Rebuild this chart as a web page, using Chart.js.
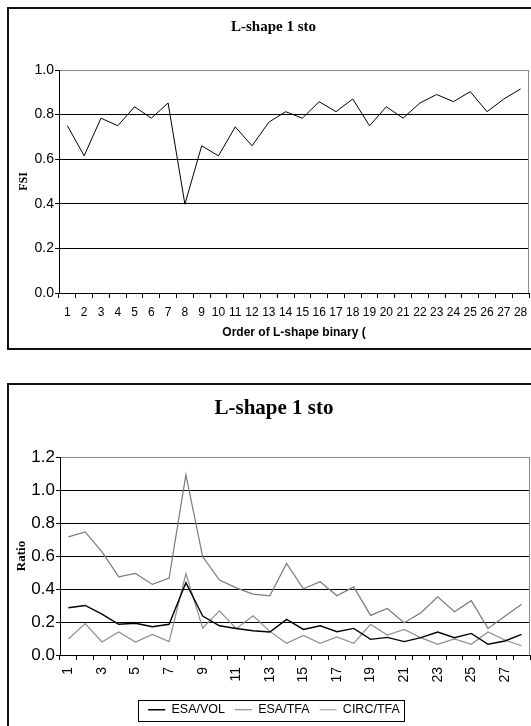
<!DOCTYPE html>
<html>
<head>
<meta charset="utf-8">
<script src="https://cdn.jsdelivr.net/npm/chart.js@4.4.1/dist/chart.umd.min.js"></script>
<style>
  html, body { margin: 0; padding: 0; background: #fff; overflow: hidden; width: 531px; height: 726px; }
  .box { position: absolute; left: 7px; border: 2px solid #111; overflow: hidden; background: #fff; }
  #box1 { top: 7px; width: 560px; height: 339px; }
  #box2 { top: 383px; width: 560px; height: 360px; }
  canvas { display: block; }
</style>
</head>
<body>
<div class="box" id="box1"><canvas id="fsiChart" width="560" height="339"></canvas></div>
<div class="box" id="box2"><canvas id="ratioChart" width="560" height="341"></canvas></div>
<script>
// ---- data ----
const categories = ['1', '2', '3', '4', '5', '6', '7', '8', '9', '10', '11', '12', '13', '14',
                    '15', '16', '17', '18', '19', '20', '21', '22', '23', '24', '25', '26', '27', '28'];

const fsi = [0.75, 0.615, 0.784, 0.75, 0.835, 0.784, 0.852, 0.398, 0.66, 0.615, 0.745, 0.66, 0.766, 0.813,
             0.784, 0.858, 0.813, 0.87, 0.75, 0.835, 0.784, 0.852, 0.89, 0.858, 0.903, 0.813, 0.87, 0.915];

const esaVol = [0.286, 0.30, 0.248, 0.186, 0.192, 0.171, 0.186, 0.438, 0.236, 0.177, 0.161, 0.147, 0.139, 0.216,
                0.155, 0.177, 0.141, 0.161, 0.095, 0.107, 0.081, 0.105, 0.139, 0.105, 0.131, 0.065, 0.085, 0.125];
const esaTfa = [0.716, 0.746, 0.625, 0.474, 0.494, 0.428, 0.466, 1.093, 0.595, 0.454, 0.407, 0.369, 0.359, 0.555,
                0.401, 0.444, 0.359, 0.413, 0.24, 0.282, 0.196, 0.256, 0.353, 0.262, 0.329, 0.161, 0.235, 0.307];
const circTfa = [0.097, 0.19, 0.079, 0.139, 0.079, 0.125, 0.081, 0.494, 0.163, 0.268, 0.159, 0.238, 0.143, 0.071,
                 0.119, 0.071, 0.109, 0.071, 0.186, 0.121, 0.155, 0.105, 0.065, 0.097, 0.065, 0.139, 0.091, 0.056];

const seriesNames = ['ESA/VOL', 'ESA/TFA', 'CIRC/TFA'];
const fsiAxisMax = 1.0;
const ratioAxisMax = 1.2;
const axisStep = 0.2;

const SANS = "'Liberation Sans', Arial, sans-serif";
const SERIF = "'Liberation Serif', 'Times New Roman', serif";

// gray right edge of plot area + box around legend
const framePlugin = {
    id: 'frame',
    afterDraw(chart) {
        const { ctx, chartArea: a } = chart;
        ctx.save();
        ctx.strokeStyle = '#8c8c8c';
        ctx.lineWidth = 1;
        ctx.beginPath();
        ctx.moveTo(Math.round(a.right) - 0.5, a.top);
        ctx.lineTo(Math.round(a.right) - 0.5, a.bottom);
        ctx.stroke();

        const lg = chart.legend;
        if (lg && lg.options.display && lg.legendHitBoxes && lg.legendHitBoxes.length) {
            const hb = lg.legendHitBoxes;
            const left = Math.min(...hb.map(h => h.left)) - 10;
            const right = Math.max(...hb.map(h => h.left + h.width)) + 4;
            const top = hb[0].top - 4;
            ctx.strokeStyle = '#000';
            ctx.strokeRect(Math.round(left) + 0.5, Math.round(top) + 0.5, Math.round(right - left), 21);
        }
        ctx.restore();
    }
};

function yAxis(max, tickSize, titleText, titleSize, width, titlePad) {
    return {
        min: 0,
        max: max,
        afterFit: s => { s.width = width; },
        ticks: { stepSize: axisStep, padding: 1, color: '#000', font: { family: SANS, size: tickSize },
                 callback: v => v.toFixed(1) },
        grid: { color: c => (c.tick && Math.abs(c.tick.value - max) < 1e-6) ? '#8c8c8c' : '#000',
                tickColor: '#000', tickLength: 4, lineWidth: 1 },
        border: { color: '#000', width: 1 },
        title: { display: true, text: titleText, color: '#000',
                 font: { family: SERIF, size: titleSize, weight: 'bold', lineHeight: 1 },
                 padding: { top: titlePad, bottom: 0 } }
    };
}

// 1. FSI chart
new Chart(document.getElementById('fsiChart'), {
    type: 'line',
    data: {
        labels: categories,
        datasets: [{
            label: 'FSI',
            data: fsi,
            borderColor: '#000',
            borderWidth: 1,
            pointRadius: 0,
            tension: 0,
            fill: false
        }]
    },
    options: {
        responsive: false,
        animation: false,
        layout: { padding: { left: 9, right: 40, top: 0, bottom: 0 } },
        plugins: {
            legend: { display: false },
            tooltip: { enabled: false },
            title: { display: true, text: 'L-shape 1 sto', color: '#000',
                     font: { family: SERIF, size: 15, weight: 'bold', lineHeight: 1.2 },
                     padding: { top: 9, bottom: 34 } }
        },
        scales: {
            x: {
                offset: true,
                afterFit: s => { s.height = 55; },
                ticks: { autoSkip: false, maxRotation: 0, minRotation: 0, padding: 7, color: '#000',
                         font: { family: SANS, size: 12 } },
                grid: { offset: true, drawOnChartArea: false, drawTicks: true, tickLength: 5, color: '#000' },
                border: { color: '#000', width: 1 },
                title: { display: true, text: 'Order of L-shape binary (', color: '#000',
                         font: { family: SANS, size: 12, weight: 'bold', lineHeight: 1.2 },
                         padding: { top: 0, bottom: 8 } }
            },
            y: yAxis(fsiAxisMax, 14, 'FSI', 12, 41, 0)
        }
    },
    plugins: [framePlugin]
});

// 2. Ratio chart
new Chart(document.getElementById('ratioChart'), {
    type: 'line',
    data: {
        labels: categories,
        datasets: [
            { label: seriesNames[0], data: esaVol, borderColor: '#000', borderWidth: 1.4,
              pointRadius: 0, tension: 0, fill: false },
            { label: seriesNames[1], data: esaTfa, borderColor: '#7a7a7a', borderWidth: 1.2,
              pointRadius: 0, tension: 0, fill: false },
            { label: seriesNames[2], data: circTfa, borderColor: '#8e8e8e', borderWidth: 1.2,
              pointRadius: 0, tension: 0, fill: false }
        ]
    },
    options: {
        responsive: false,
        animation: false,
        layout: { padding: { left: 9, right: 39, top: 0, bottom: 0 } },
        plugins: {
            tooltip: { enabled: false },
            title: { display: true, text: 'L-shape 1 sto', color: '#000',
                     font: { family: SERIF, size: 21, weight: 'bold', lineHeight: 1.2 },
                     padding: { top: 11, bottom: 35.8 } },
            legend: {
                position: 'bottom',
                labels: { usePointStyle: true, pointStyle: 'line', pointStyleWidth: 17, padding: 10,
                          color: '#000', font: { family: SANS, size: 12.5 } }
            }
        },
        scales: {
            x: {
                offset: true,
                afterFit: s => { s.height = 38.5; },
                ticks: {
                    autoSkip: false, maxRotation: 90, minRotation: 90, padding: 7, color: '#000',
                    font: { family: SANS, size: 14 },
                    callback: (v, i) => (i % 2 === 0 ? categories[i] : '')
                },
                grid: { offset: true, drawOnChartArea: false, drawTicks: true, tickLength: 5, color: '#000' },
                border: { color: '#000', width: 1 }
            },
            y: yAxis(ratioAxisMax, 17, 'Ratio', 13, 42, -2.5)
        }
    },
    plugins: [framePlugin]
});
</script>
</body>
</html>
